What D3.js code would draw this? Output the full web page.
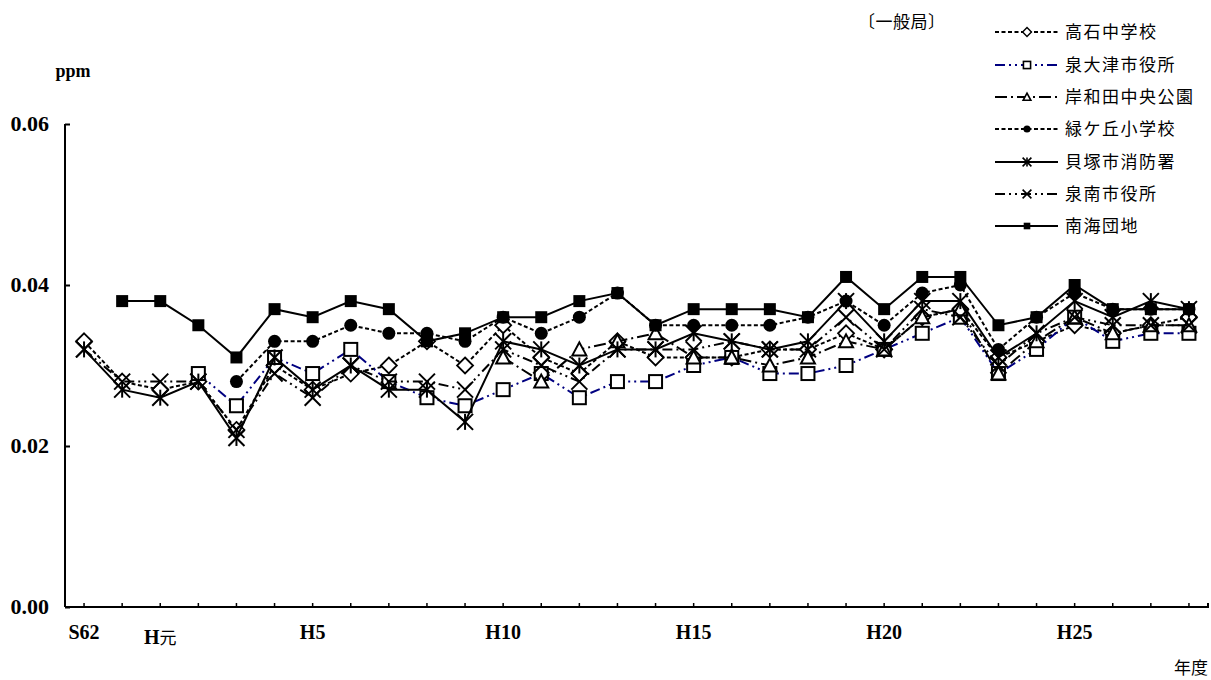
<!DOCTYPE html>
<html>
<head>
<meta charset="utf-8">
<script src="https://cdn.jsdelivr.net/npm/d3@7"></script>
<style>
  body { margin: 0; background: #fff; }
  svg { display: block; }
</style>
</head>
<body>
<div id="chart-area"></div>
<script>
// 年度 (S62 .. H28)
var years = ['S62','S63','H1','H2','H3','H4','H5','H6','H7','H8','H9','H10','H11','H12','H13','H14',
             'H15','H16','H17','H18','H19','H20','H21','H22','H23','H24','H25','H26','H27','H28'];
var tickYears = ['S62','H1','H5','H10','H15','H20','H25'];
var tickNames = ['S62','H元','H5','H10','H15','H20','H25'];
var yTicks = [0, 0.02, 0.04, 0.06];

var seriesNames = ['高石中学校','泉大津市役所','岸和田中央公園','緑ケ丘小学校','貝塚市消防署','泉南市役所','南海団地'];

var takaishi    = [0.033,0.028,0.027,0.028,0.022,0.030,0.027,0.029,0.030,0.033,0.030,0.035,0.031,0.029,0.033,
                   0.031,0.031,0.031,0.032,0.032,0.034,0.032,0.036,0.037,0.031,0.033,0.035,0.034,0.035,0.036];
var izumiotsu   = [null,null,null,0.029,0.025,0.031,0.029,0.032,0.028,0.026,0.025,0.027,0.029,0.026,0.028,
                   0.028,0.030,0.031,0.029,0.029,0.030,0.032,0.034,0.036,0.029,0.032,0.036,0.033,0.034,0.034];
var kishiwada   = [null,null,null,null,null,null,null,null,null,null,null,0.031,0.028,0.032,0.033,
                   0.034,0.031,0.031,0.030,0.031,0.033,0.032,0.036,0.037,0.029,0.033,0.036,0.034,0.035,0.035];
var midorigaoka = [null,null,null,null,0.028,0.033,0.033,0.035,0.034,0.034,0.033,0.036,0.034,0.036,0.039,
                   0.035,0.035,0.035,0.035,0.036,0.038,0.035,0.039,0.040,0.032,0.036,0.039,0.037,0.037,0.037];
var kaizuka     = [0.032,0.027,0.026,0.028,0.021,0.031,0.027,0.030,0.027,0.027,0.023,0.033,0.032,0.030,0.032,
                   0.032,0.034,0.033,0.032,0.033,0.038,0.033,0.038,0.038,0.031,0.034,0.038,0.036,0.038,0.037];
var sennan      = [0.032,0.028,0.028,0.028,0.022,0.029,0.026,0.030,0.028,0.028,0.027,0.032,0.030,0.028,0.032,
                   0.032,0.032,0.033,0.032,0.032,0.036,0.032,0.037,0.036,0.030,0.034,0.036,0.035,0.035,0.035];
var nankai      = [null,0.038,0.038,0.035,0.031,0.037,0.036,0.038,0.037,0.033,0.034,0.036,0.036,0.038,0.039,
                   0.035,0.037,0.037,0.037,0.036,0.041,0.037,0.041,0.041,0.035,0.036,0.040,0.037,0.037,0.037];

var seriesValues = [takaishi, izumiotsu, kishiwada, midorigaoka, kaizuka, sennan, nankai];

// line / marker style per series
var styles = [
  { color: '#000', dash: '4,2.5',            marker: 'diamond' },
  { color: '#000080', dash: '10,4,2,4,2,4',  marker: 'square' },
  { color: '#000', dash: '12,4,2,4',         marker: 'triangle' },
  { color: '#000', dash: '4,2.5',            marker: 'circle' },
  { color: '#000', dash: null,               marker: 'star' },
  { color: '#000', dash: '10,4,2,4,2,4',     marker: 'x' },
  { color: '#000', dash: null,               marker: 'filledSquare' }
];

var W = 1211, H = 680;
var plot = { left: 65, right: 1208, top: 124, bottom: 607 };

var svg = d3.select('#chart-area')
  .append('svg')
    .attr('width', W)
    .attr('height', H);

var x = d3.scaleBand()
  .domain(years)
  .range([plot.left, plot.right])
  .padding(0);

var y = d3.scaleLinear()
  .domain([0, 0.06])
  .range([plot.bottom, plot.top]);

function cx(d) { return x(d) + x.bandwidth() / 2; }

var serif = "'Liberation Serif', 'DejaVu Serif', serif";
var cjk = "'Noto Sans CJK JP', sans-serif";

// Y axis
var yAxis = d3.axisRight(y)
  .tickValues(yTicks)
  .tickSize(5)
  .tickFormat('');
svg.append('g')
  .attr('transform', 'translate(' + plot.left + ',0)')
  .call(yAxis)
  .call(g => g.select('.domain').attr('stroke-width', 2).attr('d', 'M0,' + plot.top + 'V' + plot.bottom))
  .call(g => g.selectAll('.tick line').attr('stroke-width', 2));

svg.selectAll('.ylab')
  .data(yTicks)
  .enter().append('text')
    .attr('class', 'ylab')
    .attr('x', 49)
    .attr('y', d => y(d) + 7)
    .attr('text-anchor', 'end')
    .attr('font-family', serif)
    .attr('font-weight', 'bold')
    .attr('font-size', '22px')
    .text(d => d3.format('.2f')(d));

// X axis
var xAxis = d3.axisTop(x)
  .tickSize(4)
  .tickFormat('');
svg.append('g')
  .attr('transform', 'translate(0,' + plot.bottom + ')')
  .call(xAxis)
  .call(g => g.select('.domain').attr('stroke-width', 2).attr('d', 'M' + plot.left + ',0H' + plot.right + 'V-4'))
  .call(g => g.selectAll('.tick line').attr('stroke-width', 1.5));

var xl = svg.selectAll('.xlab')
  .data(tickYears)
  .enter().append('text')
    .attr('class', 'xlab')
    .attr('x', d => cx(d))
    .attr('y', 639)
    .attr('text-anchor', 'middle')
    .attr('font-family', serif)
    .attr('font-weight', 'bold')
    .attr('font-size', '20px');
xl.each(function(d, i) {
  var t = d3.select(this);
  var name = tickNames[i];
  if (name === 'H元') {
    t.attr('y', 644);
    t.append('tspan').text('H');
    t.append('tspan').attr('font-family', cjk).attr('font-weight', 'normal').attr('font-size', '17px').text('元');
  } else {
    t.text(name);
  }
});

// labels
svg.append('text')
  .attr('x', 73).attr('y', 77)
  .attr('text-anchor', 'middle')
  .attr('font-family', serif)
  .attr('font-weight', 'bold')
  .attr('font-size', '18px')
  .text('ppm');

svg.append('text')
  .attr('x', 1208).attr('y', 674)
  .attr('text-anchor', 'end')
  .attr('font-family', cjk)
  .attr('font-size', '17px')
  .text('年度');

svg.append('text')
  .attr('x', 858).attr('y', 28)
  .attr('font-family', cjk)
  .attr('font-size', '17px')
  .attr('letter-spacing', '0.5px')
  .text('〔一般局〕');

// markers
function drawMarker(g, type, px, py, k) {
  k = k || 1;
  var s = 8 * k, sw = 2 * Math.max(k, 0.8);
  if (type === 'diamond') {
    g.append('path').attr('d', 'M' + px + ',' + (py - s) + 'L' + (px + s) + ',' + py + 'L' + px + ',' + (py + s) + 'L' + (px - s) + ',' + py + 'Z')
      .attr('fill', '#fff').attr('stroke', '#000').attr('stroke-width', sw * 0.9);
  } else if (type === 'square') {
    var h = 6.5 * k;
    g.append('rect').attr('x', px - h).attr('y', py - h).attr('width', 2 * h).attr('height', 2 * h)
      .attr('fill', '#fff').attr('stroke', '#000').attr('stroke-width', sw);
  } else if (type === 'triangle') {
    g.append('path').attr('d', 'M' + px + ',' + (py - 7 * k) + 'L' + (px + 7 * k) + ',' + (py + 6 * k) + 'L' + (px - 7 * k) + ',' + (py + 6 * k) + 'Z')
      .attr('fill', '#fff').attr('stroke', '#000').attr('stroke-width', sw);
  } else if (type === 'circle') {
    g.append('circle').attr('cx', px).attr('cy', py).attr('r', 6.5 * k).attr('fill', '#000');
  } else if (type === 'filledSquare') {
    g.append('rect').attr('x', px - 6 * k).attr('y', py - 6 * k).attr('width', 12 * k).attr('height', 12 * k).attr('fill', '#000');
  } else if (type === 'x' || type === 'star') {
    g.append('path').attr('d', 'M' + (px - s) + ',' + (py - s) + 'L' + (px + s) + ',' + (py + s) + 'M' + (px + s) + ',' + (py - s) + 'L' + (px - s) + ',' + (py + s))
      .attr('stroke', '#000').attr('stroke-width', sw).attr('fill', 'none');
    if (type === 'star') {
      g.append('path').attr('d', 'M' + px + ',' + (py - s) + 'V' + (py + s))
        .attr('stroke', '#000').attr('stroke-width', sw);
    }
  }
}

var line = d3.line()
  .defined(d => d.v != null)
  .x(d => cx(d.year))
  .y(d => y(d.v));

seriesValues.forEach((vals, i) => {
  var st = styles[i];
  var data = years.map((yr, j) => ({ year: yr, v: vals[j] }));
  var g = svg.append('g');
  g.append('path')
    .datum(data)
    .attr('fill', 'none')
    .attr('stroke', st.color)
    .attr('stroke-width', 2)
    .attr('stroke-dasharray', st.dash)
    .attr('d', line);
  data.filter(d => d.v != null).forEach(d => drawMarker(g, st.marker, cx(d.year), y(d.v)));
});

// legend
var legendY = [32, 65, 97, 129, 162, 194, 226];
seriesNames.forEach((name, i) => {
  var st = styles[i];
  var ly = legendY[i];
  var g = svg.append('g');
  g.append('line')
    .attr('x1', 995).attr('x2', 1058)
    .attr('y1', ly).attr('y2', ly)
    .attr('stroke', st.color)
    .attr('stroke-width', 2)
    .attr('stroke-dasharray', st.dash);
  drawMarker(g, st.marker, 1027, ly, 0.55);
  g.append('text')
    .attr('x', 1065).attr('y', ly + 6)
    .attr('font-family', cjk)
    .attr('font-size', '17px')
    .attr('letter-spacing', '1.5px')
    .text(name);
});
</script>
</body>
</html>
